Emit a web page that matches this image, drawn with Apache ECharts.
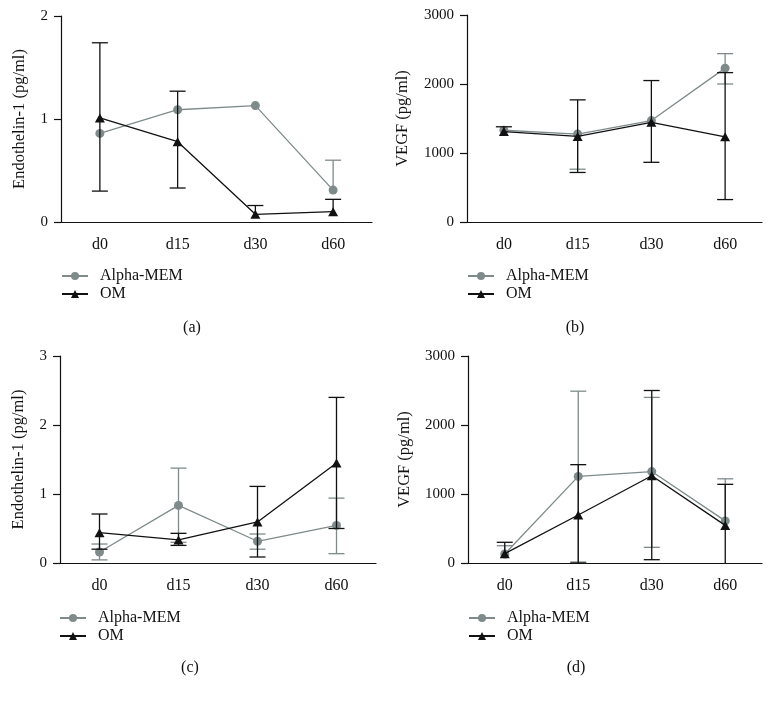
<!DOCTYPE html>
<html>
<head>
<meta charset="utf-8">
<script src="https://cdn.jsdelivr.net/npm/echarts@6/dist/echarts.min.js"></script>
<style>html,body{margin:0;padding:0;background:#fff}#c{width:773px;height:701px}</style>
</head>
<body>
<div id="c"></div>
<script>
// ---- data ----
const categories = ['d0', 'd15', 'd30', 'd60'];
const seriesNames = ['Alpha-MEM', 'OM'];
const panelLabels = ['(a)', '(b)', '(c)', '(d)'];
const yTitles = ['Endothelin-1 (pg/ml)', 'VEGF (pg/ml)', 'Endothelin-1 (pg/ml)', 'VEGF (pg/ml)'];
const yMax = [2, 3000, 3, 3000];
const yStep = [1, 1000, 1, 1000];

// panel (a)
const aAlpha = [0.86, 1.09, 1.13, 0.31];
const aAlphaHi = [null, null, null, 0.60];
const aAlphaLo = [null, null, null, null];
const aOM = [1.01, 0.78, 0.075, 0.10];
const aOMHi = [1.74, 1.27, 0.16, 0.22];
const aOMLo = [0.30, 0.33, null, null];

// panel (b)
const bAlpha = [1330, 1275, 1470, 2230];
const bAlphaHi = [null, null, null, 2440];
const bAlphaLo = [null, 765, null, 2000];
const bOM = [1310, 1240, 1445, 1235];
const bOMHi = [1380, 1770, 2050, 2165];
const bOMLo = [null, 718, 865, 325];

// panel (c)
const cAlpha = [0.16, 0.835, 0.315, 0.545];
const cAlphaHi = [0.275, 1.375, 0.42, 0.94];
const cAlphaLo = [0.045, 0.30, 0.20, 0.135];
const cOM = [0.44, 0.335, 0.595, 1.45];
const cOMHi = [0.71, 0.43, 1.11, 2.40];
const cOMLo = [0.20, 0.255, 0.087, 0.50];

// panel (d)
const dAlpha = [130, 1255, 1325, 610];
const dAlphaHi = [250, 2490, 2400, 1220];
const dAlphaLo = [null, 14, 227, null];
const dOM = [135, 695, 1265, 545];
const dOMHi = [300, 1425, 2500, 1140];
const dOMLo = [null, 0, 48, -60];

const panels = [
  {alpha: aAlpha, alphaHi: aAlphaHi, alphaLo: aAlphaLo, om: aOM, omHi: aOMHi, omLo: aOMLo},
  {alpha: bAlpha, alphaHi: bAlphaHi, alphaLo: bAlphaLo, om: bOM, omHi: bOMHi, omLo: bOMLo},
  {alpha: cAlpha, alphaHi: cAlphaHi, alphaLo: cAlphaLo, om: cOM, omHi: cOMHi, omLo: cOMLo},
  {alpha: dAlpha, alphaHi: dAlphaHi, alphaLo: dAlphaLo, om: dOM, omHi: dOMHi, omLo: dOMLo}
];

// ---- layout / style ----
const FONT = '"Liberation Serif", "DejaVu Serif", serif';
const GRAY = '#7f8b8b';
const BLACK = '#111111';
const grids = [
  {left: 61, top: 16, width: 311, height: 206},
  {left: 467, top: 15, width: 295, height: 207},
  {left: 60, top: 356, width: 316, height: 207},
  {left: 468, top: 356, width: 294, height: 207}
];
const nameGaps = [33, 56, 33, 55];
const legendPos = [
  {left: 61, top: 268}, {left: 467, top: 268},
  {left: 59, top: 610}, {left: 468, top: 610}
];
const labelPos = [[192, 328], [575, 328], [190, 668], [576, 668]];

function errData(mid, lo, hi) {
  return categories.map((c, i) => [i, mid[i], lo[i] == null ? '-' : lo[i], hi[i] == null ? '-' : hi[i]]);
}
function errRender(color) {
  return function (params, api) {
    const x = api.value(0), m = api.value(1), lo = api.value(2), hi = api.value(3);
    const children = [];
    const cap = 8;
    const style = {stroke: color, lineWidth: 1.3, fill: null};
    const pm = api.coord([x, m]);
    if (!isNaN(hi)) {
      const ph = api.coord([x, hi]);
      children.push({type: 'line', shape: {x1: pm[0], y1: pm[1], x2: ph[0], y2: ph[1]}, style});
      children.push({type: 'line', shape: {x1: ph[0] - cap, y1: ph[1], x2: ph[0] + cap, y2: ph[1]}, style});
    }
    if (!isNaN(lo)) {
      const below = lo < 0;
      const pl = api.coord([x, below ? 0 : lo]);
      children.push({type: 'line', shape: {x1: pm[0], y1: pm[1], x2: pl[0], y2: pl[1]}, style});
      if (!below) children.push({type: 'line', shape: {x1: pl[0] - cap, y1: pl[1], x2: pl[0] + cap, y2: pl[1]}, style});
    }
    return {type: 'group', children};
  };
}

const option = {
  animation: false,
  backgroundColor: '#fff',
  grid: grids,
  xAxis: grids.map((g, k) => ({
    type: 'category', gridIndex: k, data: categories, boundaryGap: true,
    axisLine: {lineStyle: {color: BLACK, width: 1.2}},
    axisTick: {alignWithLabel: true, length: 7, lineStyle: {color: BLACK, width: 1.2}},
    axisLabel: {color: BLACK, fontFamily: FONT, fontSize: 16, margin: 15},
    splitLine: {show: false}
  })),
  yAxis: grids.map((g, k) => ({
    type: 'value', gridIndex: k, min: 0, max: yMax[k], interval: yStep[k],
    name: yTitles[k], nameLocation: 'middle', nameGap: nameGaps[k], nameRotate: 90,
    nameTextStyle: {color: BLACK, fontFamily: FONT, fontSize: 16.5},
    axisLine: {show: true, lineStyle: {color: BLACK, width: 1.2}},
    axisTick: {show: true, length: 7, lineStyle: {color: BLACK, width: 1.2}},
    axisLabel: {color: BLACK, fontFamily: FONT, fontSize: 15, margin: 13, formatter: v => String(v)},
    splitLine: {show: false}
  })),
  legend: legendPos.map(p => ({
    orient: 'vertical', left: p.left, top: p.top, data: seriesNames, padding: 0,
    itemWidth: 26, itemHeight: 10, itemGap: 2, selectedMode: false,
    textStyle: {color: BLACK, fontFamily: FONT, fontSize: 16, padding: [0, 0, 0, 7]}
  })),
  graphic: labelPos.map((p, k) => ({
    type: 'text', x: p[0], y: p[1],
    style: {text: panelLabels[k], textAlign: 'center', textVerticalAlign: 'middle', font: '16px ' + FONT, fill: BLACK}
  })),
  series: []
};

panels.forEach((p, k) => {
  option.series.push({
    type: 'line', name: 'Alpha-MEM', xAxisIndex: k, yAxisIndex: k, z: 3,
    data: p.alpha, symbol: 'circle', symbolSize: 9,
    lineStyle: {color: GRAY, width: 1.3}, itemStyle: {color: GRAY}
  });
  option.series.push({
    type: 'line', name: 'OM', xAxisIndex: k, yAxisIndex: k, z: 5,
    data: p.om, symbol: 'triangle', symbolSize: [10, 9],
    lineStyle: {color: BLACK, width: 1.3}, itemStyle: {color: BLACK}
  });
  option.series.push({
    type: 'custom', name: 'Alpha-MEM error', xAxisIndex: k, yAxisIndex: k, z: 2,
    renderItem: errRender(GRAY), data: errData(p.alpha, p.alphaLo, p.alphaHi),
    encode: {x: 0, y: [1, 2, 3]}, silent: true
  });
  option.series.push({
    type: 'custom', name: 'OM error', xAxisIndex: k, yAxisIndex: k, z: 4,
    renderItem: errRender(BLACK), data: errData(p.om, p.omLo, p.omHi),
    encode: {x: 0, y: [1, 2, 3]}, silent: true
  });
});

const chart = echarts.init(document.getElementById('c'), null, {renderer: 'canvas'});
chart.setOption(option);
</script>
</body>
</html>
